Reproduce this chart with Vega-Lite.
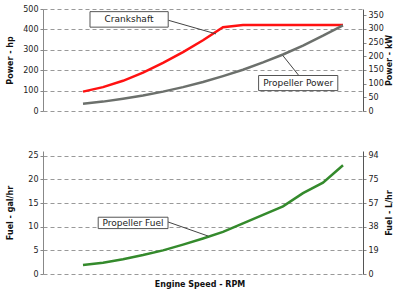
{
  "$schema": "https://vega.github.io/schema/vega-lite/v6.json",
  "padding": {"left": 6, "right": 0, "top": 5, "bottom": 0},
  "spacing": 36,
  "title": {"text": "Engine Speed - RPM", "orient": "bottom", "anchor": "middle", "fontSize": 8, "fontWeight": "bold", "font": "DejaVu Sans", "color": "#111", "offset": 3},
  "config": {
    "font": "DejaVu Sans",
    "view": {"stroke": null},
    "axis": {
      "labelFont": "DejaVu Sans",
      "labelFontSize": 8,
      "labelColor": "#222",
      "titleFont": "DejaVu Sans",
      "titleFontSize": 8,
      "titleFontWeight": "bold",
      "titleColor": "#111",
      "tickSize": 3,
      "tickColor": "#888",
      "domainColor": "#888",
      "labelPadding": 2
    },
    "axisX": {"grid": true, "gridColor": "#bbbbbb", "gridWidth": 1},
    "axisY": {"grid": true, "gridColor": "#999999", "gridDash": [4, 3], "gridWidth": 1}
  },
  "datasets": {
    "power": [
      {"rpm": 1000, "hp": 95, "series": "Crankshaft"},
      {"rpm": 1100, "hp": 117, "series": "Crankshaft"},
      {"rpm": 1200, "hp": 148, "series": "Crankshaft"},
      {"rpm": 1300, "hp": 188, "series": "Crankshaft"},
      {"rpm": 1400, "hp": 236, "series": "Crankshaft"},
      {"rpm": 1500, "hp": 289, "series": "Crankshaft"},
      {"rpm": 1600, "hp": 347, "series": "Crankshaft"},
      {"rpm": 1700, "hp": 411, "series": "Crankshaft"},
      {"rpm": 1800, "hp": 422, "series": "Crankshaft"},
      {"rpm": 1900, "hp": 422, "series": "Crankshaft"},
      {"rpm": 2000, "hp": 422, "series": "Crankshaft"},
      {"rpm": 2100, "hp": 422, "series": "Crankshaft"},
      {"rpm": 2200, "hp": 422, "series": "Crankshaft"},
      {"rpm": 2300, "hp": 422, "series": "Crankshaft"},
      {"rpm": 1000, "hp": 35, "series": "Propeller Power"},
      {"rpm": 1100, "hp": 46, "series": "Propeller Power"},
      {"rpm": 1200, "hp": 60, "series": "Propeller Power"},
      {"rpm": 1300, "hp": 76, "series": "Propeller Power"},
      {"rpm": 1400, "hp": 95, "series": "Propeller Power"},
      {"rpm": 1500, "hp": 117, "series": "Propeller Power"},
      {"rpm": 1600, "hp": 142, "series": "Propeller Power"},
      {"rpm": 1700, "hp": 171, "series": "Propeller Power"},
      {"rpm": 1800, "hp": 202, "series": "Propeller Power"},
      {"rpm": 1900, "hp": 238, "series": "Propeller Power"},
      {"rpm": 2000, "hp": 277, "series": "Propeller Power"},
      {"rpm": 2100, "hp": 321, "series": "Propeller Power"},
      {"rpm": 2200, "hp": 369, "series": "Propeller Power"},
      {"rpm": 2300, "hp": 420, "series": "Propeller Power"}
    ],
    "fuel": [
      {"rpm": 1000, "gal": 1.9},
      {"rpm": 1100, "gal": 2.4},
      {"rpm": 1200, "gal": 3.1},
      {"rpm": 1300, "gal": 4.0},
      {"rpm": 1400, "gal": 5.0},
      {"rpm": 1500, "gal": 6.2},
      {"rpm": 1600, "gal": 7.5},
      {"rpm": 1700, "gal": 8.9},
      {"rpm": 1800, "gal": 10.7},
      {"rpm": 1900, "gal": 12.5},
      {"rpm": 2000, "gal": 14.3},
      {"rpm": 2100, "gal": 17.1},
      {"rpm": 2200, "gal": 19.3},
      {"rpm": 2300, "gal": 23.0}
    ],
    "powerLabels": [
      {"label": "Crankshaft", "rpm": 1035, "rpm2": 1426, "hp": 487, "hp2": 411, "rpmc": 1230, "hpc": 449, "lx": 1426, "ly": 445, "lx2": 1665, "ly2": 378},
      {"label": "Propeller Power", "rpm": 1878, "rpm2": 2274, "hp": 174, "hp2": 100, "rpmc": 2076, "hpc": 137, "lx": 2079, "ly": 174, "lx2": 1999, "ly2": 272}
    ],
    "fuelLabels": [
      {"label": "Propeller Fuel", "rpm": 1076, "rpm2": 1425, "gal": 12.0, "gal2": 9.6, "rpmc": 1250, "galc": 10.8, "lx": 1425, "ly": 11.0, "lx2": 1627, "ly2": 8.0}
    ]
  },
  "vconcat": [
    {
      "width": 320,
      "height": 102,
      "resolve": {"axis": {"y": "independent"}},
      "layer": [
        {
          "data": {"name": "power"},
          "mark": {"type": "line", "strokeWidth": 2.5},
          "encoding": {
            "x": {"field": "rpm", "type": "quantitative", "scale": {"domain": [900, 2400]},
                  "axis": {"title": null, "values": [900, 1100, 1300, 1500, 1700, 1900, 2100, 2300]}},
            "y": {"field": "hp", "type": "quantitative", "scale": {"domain": [0, 500]},
                  "axis": {"title": "Power - hp", "values": [0, 100, 200, 300, 400, 500], "titlePadding": 8}},
            "color": {"field": "series", "type": "nominal",
                      "scale": {"domain": ["Crankshaft", "Propeller Power"], "range": ["#ff1111", "#6c706c"]},
                      "legend": null}
          }
        },
        {
          "data": {"name": "powerLabels"},
          "mark": {"type": "rule", "color": "#444", "strokeWidth": 1},
          "encoding": {
            "x": {"field": "lx", "type": "quantitative", "axis": null},
            "x2": {"field": "lx2"},
            "y": {"field": "ly", "type": "quantitative", "axis": null},
            "y2": {"field": "ly2"}
          }
        },
        {
          "data": {"name": "powerLabels"},
          "mark": {"type": "rect", "fill": "white", "stroke": "#555", "strokeWidth": 1},
          "encoding": {
            "x": {"field": "rpm", "type": "quantitative", "axis": null},
            "x2": {"field": "rpm2"},
            "y": {"field": "hp", "type": "quantitative", "axis": null},
            "y2": {"field": "hp2"}
          }
        },
        {
          "data": {"name": "powerLabels"},
          "mark": {"type": "text", "fontSize": 9, "color": "#222", "font": "DejaVu Sans"},
          "encoding": {
            "x": {"field": "rpmc", "type": "quantitative", "axis": null},
            "y": {"field": "hpc", "type": "quantitative", "axis": null},
            "text": {"field": "label"}
          }
        },
        {
          "data": {"name": "power"},
          "mark": {"type": "line", "opacity": 0},
          "encoding": {
            "x": {"field": "rpm", "type": "quantitative", "axis": null},
            "y": {"field": "hp", "type": "quantitative",
                  "axis": {"orient": "right", "title": "Power - kW", "titleAngle": 270, "titleBaseline": "top", "grid": false,
                           "values": [0, 67.05, 134.1, 201.15, 268.2, 335.25, 402.3, 469.35],
                           "labelExpr": "format(datum.value*0.7457, '.0f')",
                           "domainColor": "#555", "titlePadding": 2}},
            "detail": {"field": "series"}
          }
        }
      ]
    },
    {
      "width": 320,
      "height": 123,
      "resolve": {"axis": {"y": "independent"}},
      "layer": [
        {
          "data": {"name": "fuel"},
          "mark": {"type": "line", "strokeWidth": 2.5, "color": "#348a2c"},
          "encoding": {
            "x": {"field": "rpm", "type": "quantitative", "scale": {"domain": [900, 2400]},
                  "axis": {"title": null, "values": [900, 1100, 1300, 1500, 1700, 1900, 2100, 2300]}},
            "y": {"field": "gal", "type": "quantitative", "scale": {"domain": [0, 25]},
                  "axis": {"title": "Fuel - gal/hr", "values": [0, 5, 10, 15, 20, 25], "titlePadding": 13}}
          }
        },
        {
          "data": {"name": "fuelLabels"},
          "mark": {"type": "rule", "color": "#444", "strokeWidth": 1},
          "encoding": {
            "x": {"field": "lx", "type": "quantitative", "axis": null},
            "x2": {"field": "lx2"},
            "y": {"field": "ly", "type": "quantitative", "axis": null},
            "y2": {"field": "ly2"}
          }
        },
        {
          "data": {"name": "fuelLabels"},
          "mark": {"type": "rect", "fill": "white", "stroke": "#555", "strokeWidth": 1},
          "encoding": {
            "x": {"field": "rpm", "type": "quantitative", "axis": null},
            "x2": {"field": "rpm2"},
            "y": {"field": "gal", "type": "quantitative", "axis": null},
            "y2": {"field": "gal2"}
          }
        },
        {
          "data": {"name": "fuelLabels"},
          "mark": {"type": "text", "fontSize": 9, "color": "#222", "font": "DejaVu Sans"},
          "encoding": {
            "x": {"field": "rpmc", "type": "quantitative", "axis": null},
            "y": {"field": "galc", "type": "quantitative", "axis": null},
            "text": {"field": "label"}
          }
        },
        {
          "data": {"name": "fuel"},
          "mark": {"type": "line", "opacity": 0},
          "encoding": {
            "x": {"field": "rpm", "type": "quantitative", "axis": null},
            "y": {"field": "gal", "type": "quantitative",
                  "axis": {"orient": "right", "title": "Fuel - L/hr", "titleAngle": 270, "titleBaseline": "top", "grid": false,
                           "values": [0, 5, 10, 15, 20, 25],
                           "labelExpr": "['0','19','38','57','75','94'][round(datum.value/5)]",
                           "domainColor": "#555", "titlePadding": 7}}
          }
        }
      ]
    }
  ]
}
